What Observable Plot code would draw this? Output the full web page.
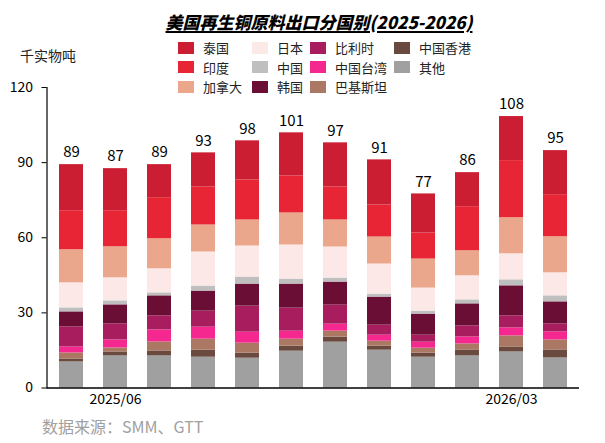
<!DOCTYPE html>
<html>
<head>
<meta charset="utf-8">
<script src="https://cdn.jsdelivr.net/npm/d3@7"></script>
<script src="https://cdn.jsdelivr.net/npm/@observablehq/plot@0.6"></script>
<style>
  html, body { margin: 0; padding: 0; background: #fff; }
  #wrap { position: relative; width: 605px; height: 443px; overflow: hidden;
    font-family: "Noto Sans CJK SC", "Noto Sans", sans-serif; color: #000; }
  #title { position: absolute; left: 319px; top: 11px; transform: translateX(-50%);
    font-size: 17px; font-weight: 900; font-style: italic; white-space: nowrap;
    text-decoration: underline; text-decoration-thickness: 1.5px; text-underline-offset: 2px; line-height: 22px; }
  #ylab { position: absolute; left: 20px; top: 46px; font-size: 14px; line-height: 18px; color: #222; }
  #legend { position: absolute; left: 178px; top: 38px; display: grid;
    grid-template-columns: 74px 58px 84px auto; grid-template-rows: repeat(3, 19.5px);
    grid-auto-flow: column; font-size: 13px; color: #222; }
  .item { display: flex; align-items: center; white-space: nowrap; }
  .sw { width: 16px; height: 12px; margin-right: 9px; flex: none; }
  #chart { position: absolute; left: 0; top: 70px; }
  #caption { position: absolute; left: 42px; top: 415px; font-size: 16px; line-height: 22px; color: #a0a0a0; white-space: nowrap; }
</style>
</head>
<body>
<div id="wrap">
  <div id="title">美国再生铜原料出口分国别(2025-2026)</div>
  <div id="ylab">千实物吨</div>
  <div id="legend"></div>
  <div id="chart"></div>
  <div id="caption">数据来源：SMM、GTT</div>
</div>
<script>
const months = ["2025/05","2025/06","2025/07","2025/08","2025/09","2025/10","2025/11","2025/12","2026/01","2026/02","2026/03","2026/04"];
const tickLabels = ["2025/06","2026/03"];
const yTicks = [0, 30, 60, 90, 120];

// series, bottom to top of each stack
const other    = [10.4,12.8,12.8,12.3,11.9,14.7,18.3,15.1,12.3,12.8,14.4,12.0];
const hongKong = [1.2,1.6,2.0,2.8,2.0,2.0,2.0,1.6,1.6,2.4,2.0,3.2];
const pakistan = [2.4,1.6,3.6,4.4,4.0,2.8,2.4,2.0,2.0,2.4,4.4,4.0];
const taiwan   = [2.4,3.2,4.8,4.8,4.4,3.2,2.8,2.4,2.4,2.8,3.2,3.2];
const belgium  = [8.0,6.4,5.6,6.4,10.4,9.2,7.6,4.0,2.8,4.4,4.8,3.2];
const korea    = [6.0,7.6,8.0,8.0,8.8,9.6,9.2,11.2,8.4,8.8,12.0,8.8];
const china    = [1.6,1.6,1.2,2.0,2.8,2.0,1.6,1.2,1.2,1.6,2.4,2.4];
const japan    = [10.0,9.2,9.6,13.6,12.4,13.6,12.4,12.0,9.2,9.6,10.4,9.2];
const canada   = [13.2,12.4,12.0,10.8,10.4,12.8,10.8,10.8,11.6,10.0,14.4,14.4];
const india    = [15.6,14.4,16.4,15.2,16.0,14.8,13.2,12.8,10.4,17.6,22.8,16.8];
const thailand = [18.4,16.8,13.2,13.6,15.6,17.2,17.6,18.0,15.6,13.6,17.6,17.6];
const totals   = [89,87,89,93,98,101,97,91,77,86,108,95];

const stackNames  = ["其他","中国香港","巴基斯坦","中国台湾","比利时","韩国","中国","日本","加拿大","印度","泰国"];
const stackValues = [other, hongKong, pakistan, taiwan, belgium, korea, china, japan, canada, india, thailand];
const stackColors = ["#a0a0a0","#6a4a3f","#ab7864","#f5288f","#a81d5e","#6a0e35","#bfbfbf","#fde8e8","#eba78b","#e72535","#cc1e32"];

// legend order (column-major)
const legendNames = ["泰国","印度","加拿大","日本","中国","韩国","比利时","中国台湾","巴基斯坦","中国香港","其他"];

const table = [];
stackNames.forEach((name, s) => {
  months.forEach((m, i) => table.push({month: m, country: name, value: stackValues[s][i]}));
});
const tops = months.map((m, i) => d3.sum(stackValues, arr => arr[i]));
const labelRows = months.map((m, i) => ({month: m, top: tops[i], label: String(totals[i])}));

const legend = document.getElementById("legend");
legendNames.forEach(name => {
  const c = stackColors[stackNames.indexOf(name)];
  const it = document.createElement("div");
  it.className = "item";
  it.innerHTML = `<span class="sw" style="background:${c}"></span><span>${name}</span>`;
  legend.appendChild(it);
});

const font = '"Noto Sans CJK SC", "Noto Sans", sans-serif';
const chart = Plot.plot({
  width: 605,
  height: 345,
  marginLeft: 46.5,
  marginRight: 26,
  marginTop: 17,
  marginBottom: 27.5,
  style: {fontFamily: font, fontSize: "14px", color: "#000", background: "transparent"},
  x: {domain: months, paddingInner: 0.45, paddingOuter: 0.225, label: null, axis: null},
  y: {domain: [0, 120], label: null, axis: null},
  color: {domain: stackNames, range: stackColors},
  marks: [
    Plot.barY(table, {x: "month", y: "value", fill: "country"}),
    Plot.text(labelRows, {x: "month", y: "top", text: "label", dy: -12, fontSize: 15, fill: "#000"}),
    Plot.axisY({ticks: yTicks, tickSize: 5, tickPadding: 9, label: null, fontSize: 14}),
    Plot.axisX({ticks: tickLabels, tickSize: 0, tickPadding: 6.5, label: null, fontSize: 14}),
    Plot.frame({anchor: "left", stroke: "#000", strokeWidth: 1.2}),
    Plot.ruleY([0], {stroke: "#000", strokeWidth: 1.5})
  ]
});
document.getElementById("chart").appendChild(chart);
</script>
</body>
</html>
